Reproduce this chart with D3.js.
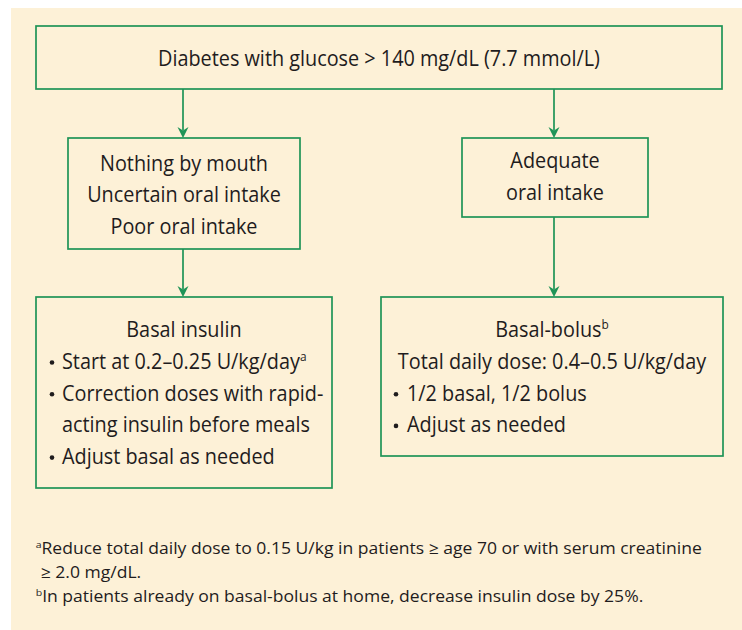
<!DOCTYPE html>
<html>
<head>
<meta charset="utf-8">
<script src="https://cdn.jsdelivr.net/npm/d3@7"></script>
<style>
  html, body { margin: 0; padding: 0; background: #fff; }
  svg text { font-family: "Open Sans", "Noto Sans", sans-serif; fill: #1f1c1d; }
</style>
</head>
<body>
<div id="chart"></div>
<script>
// flowchart text, kept as small arrays
var startText = [[{t: "Diabetes with glucose > 140 mg/dL (7.7 mmol/L)"}]];
var npoLines = [
  [{t: "Nothing by mouth"}],
  [{t: "Uncertain oral intake"}],
  [{t: "Poor oral intake"}]
];
var oralLines = [[{t: "Adequate"}], [{t: "oral intake"}]];
var basalTitle = [[{t: "Basal insulin"}]];
var basalBullets = [
  [{t: "Start at 0.2\u20130.25 U/kg/day"}, {t: "a", sup: true}],
  [{t: "Correction doses with rapid-"}],
  [{t: "acting insulin before meals", cont: true}],
  [{t: "Adjust basal as needed"}]
];
var bolusTitle = [
  [{t: "Basal-bolus"}, {t: "b", sup: true}],
  [{t: "Total daily dose: 0.4\u20130.5 U/kg/day"}]
];
var bolusBullets = [
  [{t: "1/2 basal, 1/2 bolus"}],
  [{t: "Adjust as needed"}]
];
var footnotes = [
  [{t: "a", sup: true}, {t: "Reduce total daily dose to 0.15 U/kg in patients \u2265 age 70 or with serum creatinine"}],
  [{t: "\u2265 2.0 mg/dL.", indent: true}],
  [{t: "b", sup: true}, {t: "In patients already on basal-bolus at home, decrease insulin dose by 25%."}]
];

// layout
var width = 742, height = 630;
var green = "#1f9457";
var lineH = 31.7;

var boxes = [
  {id: "start", x0: 36, x1: 722, y0: 26, y1: 89},
  {id: "npo", x0: 68, x1: 300, y0: 138, y1: 249},
  {id: "oral", x0: 462, x1: 648, y0: 138, y1: 217},
  {id: "basal", x0: 36, x1: 332, y0: 297, y1: 488},
  {id: "bolus", x0: 381, x1: 723, y0: 297, y1: 456}
];
var boxById = {};
boxes.forEach(function(b) { boxById[b.id] = b; });

var links = [
  {from: "start", to: "npo", x: 183},
  {from: "start", to: "oral", x: 554},
  {from: "npo", to: "basal", x: 183},
  {from: "oral", to: "bolus", x: 554}
];

var svg = d3.select("#chart").append("svg")
  .attr("width", width)
  .attr("height", height);

// cream panel
svg.append("rect")
  .attr("x", 11).attr("y", 8)
  .attr("width", width - 11).attr("height", height - 8)
  .attr("fill", "#fdf1d7");

// boxes
svg.selectAll(".box")
  .data(boxes)
  .enter()
  .append("rect")
  .attr("class", "box")
  .attr("x", d => d.x0)
  .attr("y", d => d.y0)
  .attr("width", d => d.x1 - d.x0)
  .attr("height", d => d.y1 - d.y0)
  .attr("fill", "none")
  .attr("stroke", green)
  .attr("stroke-width", 1.7);

// arrows
var headLen = 11, headW = 5.5, notch = 3.5;
var arrows = svg.selectAll(".arrow")
  .data(links)
  .enter()
  .append("g")
  .attr("class", "arrow");

arrows.append("line")
  .attr("x1", d => d.x)
  .attr("x2", d => d.x)
  .attr("y1", d => boxById[d.from].y1)
  .attr("y2", d => boxById[d.to].y0 - headLen + notch)
  .attr("stroke", green)
  .attr("stroke-width", 1.7);

arrows.append("path")
  .attr("d", function(d) {
    var tip = boxById[d.to].y0;
    return d3.line()([
      [d.x, tip],
      [d.x - headW, tip - headLen],
      [d.x, tip - headLen + notch],
      [d.x + headW, tip - headLen]
    ]) + "Z";
  })
  .attr("fill", green);

// text helpers
var mainSize = 22, noteSize = 16.4;
var allText = [];

function addLine(segs, x, y, anchor, size) {
  var t = svg.append("text")
    .attr("text-anchor", anchor)
    .attr("font-size", size)
    .attr("data-x", x)
    .attr("data-y", y);
  segs.forEach(function(s) {
    var sp = t.append("tspan").text(s.t);
    if (s.sup) {
      sp.attr("font-size", size * 0.6).attr("dy", -size * 0.36);
    } else if (t.selectAll("tspan").size() > 1) {
      sp.attr("dy", size * 0.36);
    }
  });
  allText.push({node: t, size: size});
  return t;
}

function centered(lines, box, firstBase) {
  var cx = (box.x0 + box.x1) / 2;
  lines.forEach(function(segs, i) {
    addLine(segs, cx, box.y0 + firstBase + i * lineH, "middle", mainSize);
  });
}

function bullets(lines, box, bulletX, textX, firstBase) {
  lines.forEach(function(segs, i) {
    var y = box.y0 + firstBase + i * lineH;
    if (!segs[0].cont) {
      svg.append("circle")
        .attr("cx", bulletX)
        .attr("cy", y - 6.5)
        .attr("r", 2.3)
        .attr("fill", "#1f1c1d");
    }
    addLine(segs, textX, y, "start", mainSize);
  });
}

centered(startText, boxById.start, 39.7);
centered(npoLines, boxById.npo, 32.7);
centered(oralLines, boxById.oral, 30.3);
centered(basalTitle, boxById.basal, 40.3);
bullets(basalBullets, boxById.basal, 52, 62, 40.3 + lineH);
centered(bolusTitle, boxById.bolus, 40.3);
bullets(bolusBullets, boxById.bolus, 396, 407, 40.3 + 2 * lineH);

var noteBase = [554.3, 578, 601.7];
footnotes.forEach(function(segs, i) {
  var x = segs[0].indent ? 40.7 : 35.7;
  addLine(segs, x, noteBase[i], "start", noteSize);
});

// squeeze the substitute font to the reference's narrower face
var titleNode = allText[0].node.node();
var kMain = 442 / titleNode.getComputedTextLength();
var noteNode = allText[allText.length - 3].node.node();
var kNote = (702 - 35.7) / noteNode.getComputedTextLength();

allText.forEach(function(d) {
  var k = d.size === noteSize ? kNote : kMain;
  var x = +d.node.attr("data-x"), y = +d.node.attr("data-y");
  d.node.attr("transform", `translate(${x},${y}) scale(${k},1)`);
});
</script>
</body>
</html>
